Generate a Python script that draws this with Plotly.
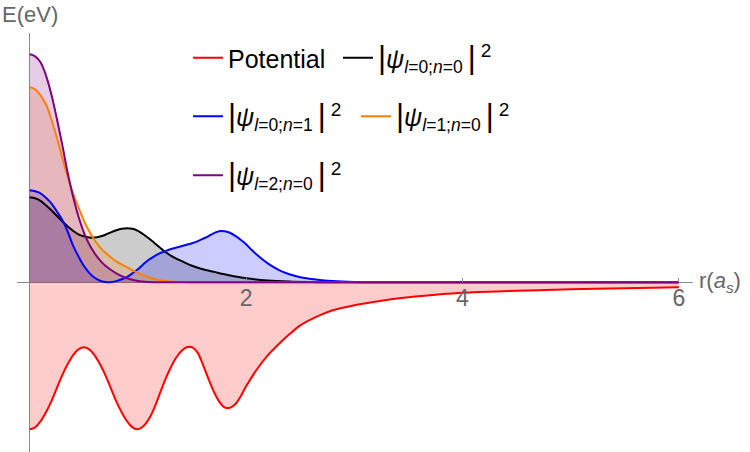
import plotly.graph_objects as go

# ---- data (energy in arbitrary units) ----
r_pot = [0.00, 0.05, 0.10, 0.15, 0.20, 0.25, 0.30, 0.35, 0.40, 0.45, 0.50, 0.55, 0.60, 0.65,
         0.70, 0.75, 0.80, 0.85, 0.90, 0.95, 1.00, 1.05, 1.10, 1.15, 1.20, 1.25, 1.30, 1.35,
         1.40, 1.45, 1.50, 1.55, 1.60, 1.65, 1.70, 1.75, 1.80, 1.85, 1.90, 1.95, 2.00, 2.10,
         2.20, 2.30, 2.40, 2.50, 2.60, 2.70, 2.80, 3.00, 3.25, 3.50, 3.75, 4.00, 4.50, 5.00,
         5.50, 6.00]
v_pot = [-1.47, -1.45, -1.39, -1.30, -1.19, -1.06, -0.93, -0.82, -0.73, -0.67, -0.65, -0.67,
         -0.73, -0.82, -0.93, -1.06, -1.19, -1.30, -1.39, -1.45, -1.47, -1.44, -1.37, -1.26,
         -1.12, -0.98, -0.86, -0.76, -0.69, -0.65, -0.65, -0.70, -0.82, -0.96, -1.09, -1.19,
         -1.25, -1.255, -1.22, -1.14, -1.04, -0.87, -0.73, -0.62, -0.52, -0.43, -0.37, -0.32,
         -0.28, -0.23, -0.185, -0.15, -0.125, -0.104, -0.085, -0.07, -0.06, -0.05]

r_00 = [0.00, 0.05, 0.10, 0.15, 0.20, 0.25, 0.30, 0.35, 0.40, 0.45, 0.50, 0.55, 0.60, 0.65,
        0.70, 0.75, 0.80, 0.85, 0.90, 0.95, 1.00, 1.05, 1.10, 1.15, 1.20, 1.25, 1.30, 1.35,
        1.40, 1.50, 1.60, 1.70, 1.80, 1.90, 2.00, 2.20, 2.40, 2.60, 2.80, 6.00]
p_00 = [0.85, 0.84, 0.815, 0.77, 0.72, 0.665, 0.61, 0.56, 0.515, 0.48, 0.46, 0.448, 0.448,
        0.458, 0.475, 0.50, 0.52, 0.535, 0.54, 0.535, 0.515, 0.48, 0.44, 0.395, 0.35, 0.305,
        0.27, 0.24, 0.215, 0.165, 0.13, 0.105, 0.08, 0.058, 0.04, 0.018, 0.007, 0.002, 0.0, 0.0]

r_01 = [0.00, 0.05, 0.10, 0.15, 0.20, 0.25, 0.30, 0.35, 0.40, 0.45, 0.50, 0.55, 0.60, 0.65,
        0.70, 0.74, 0.80, 0.85, 0.90, 0.95, 1.00, 1.05, 1.10, 1.15, 1.20, 1.25, 1.30, 1.35,
        1.40, 1.45, 1.50, 1.55, 1.60, 1.65, 1.70, 1.75, 1.80, 1.85, 1.90, 1.95, 2.00, 2.05,
        2.10, 2.15, 2.20, 2.30, 2.40, 2.50, 2.60, 2.70, 2.80, 3.00, 3.20, 3.40, 6.00]
p_01 = [0.92, 0.91, 0.89, 0.845, 0.79, 0.71, 0.625, 0.51, 0.37, 0.26, 0.165, 0.095, 0.045,
        0.016, 0.003, 0.0, 0.012, 0.03, 0.055, 0.09, 0.13, 0.18, 0.225, 0.26, 0.29, 0.31, 0.33,
        0.345, 0.36, 0.375, 0.39, 0.41, 0.435, 0.46, 0.49, 0.51, 0.51, 0.495, 0.465, 0.425,
        0.38, 0.325, 0.275, 0.23, 0.19, 0.125, 0.08, 0.05, 0.032, 0.02, 0.012, 0.004, 0.001,
        0.0, 0.0]

r_10 = [0.00, 0.05, 0.10, 0.15, 0.20, 0.25, 0.30, 0.35, 0.40, 0.45, 0.50, 0.55, 0.60, 0.65,
        0.70, 0.80, 0.90, 1.00, 1.10, 1.20, 1.30, 1.40, 1.60, 6.00]
p_10 = [1.95, 1.93, 1.87, 1.78, 1.63, 1.45, 1.25, 1.06, 0.89, 0.75, 0.62, 0.51, 0.42, 0.35,
        0.295, 0.21, 0.15, 0.095, 0.05, 0.02, 0.007, 0.002, 0.0, 0.0]

r_20 = [0.00, 0.05, 0.10, 0.15, 0.20, 0.25, 0.30, 0.35, 0.40, 0.45, 0.50, 0.55, 0.60, 0.65,
        0.70, 0.80, 0.90, 1.00, 1.10, 1.20, 6.00]
p_20 = [2.28, 2.26, 2.20, 2.07, 1.88, 1.64, 1.38, 1.10, 0.86, 0.66, 0.50, 0.38, 0.29, 0.22,
        0.165, 0.09, 0.04, 0.013, 0.003, 0.0, 0.0]

x_ticks = [2, 4, 6]

BAR = '<span style="font-size:31px">|</span>'
def psi_name(l, n):
    return (BAR + "<i>ψ</i><sub><i>l</i>=%d;<i>n</i>=%d</sub>\u2009" % (l, n)
            + BAR + '\u2009<sup><span style="font-size:19px">2</span></sup>\u2003')

names = ["Potential", psi_name(0, 0), psi_name(0, 1), psi_name(1, 0), psi_name(2, 0)]
colors = [(255, 0, 0), (0, 0, 0), (0, 0, 255), (255, 128, 0), (128, 0, 128)]
legends = ["legend", "legend", "legend2", "legend2", "legend3"]
entry_w = [105, None, 123, None, None]   # legend entry widths (first column)
series = [(r_pot, v_pot), (r_00, p_00), (r_01, p_01), (r_10, p_10), (r_20, p_20)]

FONT = "Liberation Sans, Arial, sans-serif"

fig = go.Figure()
# fills first
for (rx, ry), c in zip(series, colors):
    fig.add_trace(go.Scatter(x=rx, y=ry, mode="lines", fill="tozeroy",
                             fillcolor="rgba(%d,%d,%d,0.2)" % c,
                             line=dict(width=0, shape="spline", smoothing=1),
                             showlegend=False, hoverinfo="skip"))
# lines on top
for (rx, ry), c, nm, lg, ew in zip(series, colors, names, legends, entry_w):
    tr = go.Scatter(x=rx, y=ry, mode="lines", name=nm, legend=lg,
                    line=dict(color="rgb(%d,%d,%d)" % c, width=2,
                              shape="spline", smoothing=1))
    if ew is not None:
        tr.legendwidth = ew
    fig.add_trace(tr)

W, H = 750, 452
ml, mr, mt, mb = 17, 57, 33, 0
px0, ppu = 29.7, 108.2        # pixel of r=0, pixels per unit
py0, ppv = 282.3, 100.0       # pixel of E=0, pixels per unit
xr = [(ml - px0) / ppu, (W - mr - px0) / ppu]
yr = [(py0 - (H - mb)) / ppv, (py0 - mt) / ppv]
plot_h = H - mt - mb
plot_w = W - ml - mr

def lx(px):
    return (px - ml) / plot_w

def ly(py):
    return (H - mb - py) / plot_h

legend_common = dict(orientation="h", bgcolor="rgba(0,0,0,0)", xanchor="left", yanchor="middle",
                     font=dict(family=FONT, size=25, color="black"), itemwidth=30,
                     tracegroupgap=0)

fig.update_layout(
    width=W, height=H,
    margin=dict(l=ml, r=mr, t=mt, b=mb),
    paper_bgcolor="white", plot_bgcolor="white",
    font=dict(family=FONT),
    xaxis=dict(range=xr, showgrid=False, zeroline=True, zerolinecolor="#8a8a8a",
               zerolinewidth=1, showline=False, anchor="free", position=ly(py0),
               tickvals=x_ticks, ticks="inside", ticklen=4, tickcolor="#8a8a8a",
               tickfont=dict(family=FONT, size=23, color="#666666")),
    yaxis=dict(range=yr, showgrid=False, zeroline=True, zerolinecolor="#8a8a8a",
               zerolinewidth=1, showline=False, showticklabels=False, ticks=""),
    legend=dict(x=lx(188), y=ly(58), **legend_common),
    legend2=dict(x=lx(188), y=ly(116.5), **legend_common),
    legend3=dict(x=lx(188), y=ly(175.5), **legend_common),
    annotations=[
        dict(text="E(eV)", xref="paper", yref="paper", x=lx(0), y=ly(14),
             xanchor="left", yanchor="middle", showarrow=False,
             font=dict(family=FONT, size=22, color="#666666")),
        dict(text="r(<i>a</i><sub><i>s</i></sub>)", xref="paper", yref="y", x=1, y=0,
             xanchor="left", yanchor="middle", xshift=4, showarrow=False,
             font=dict(family=FONT, size=22, color="#666666")),
    ],
)

fig.write_html("out.html", config={"displayModeBar": False},
               post_script="document.body.style.margin='0px';")
